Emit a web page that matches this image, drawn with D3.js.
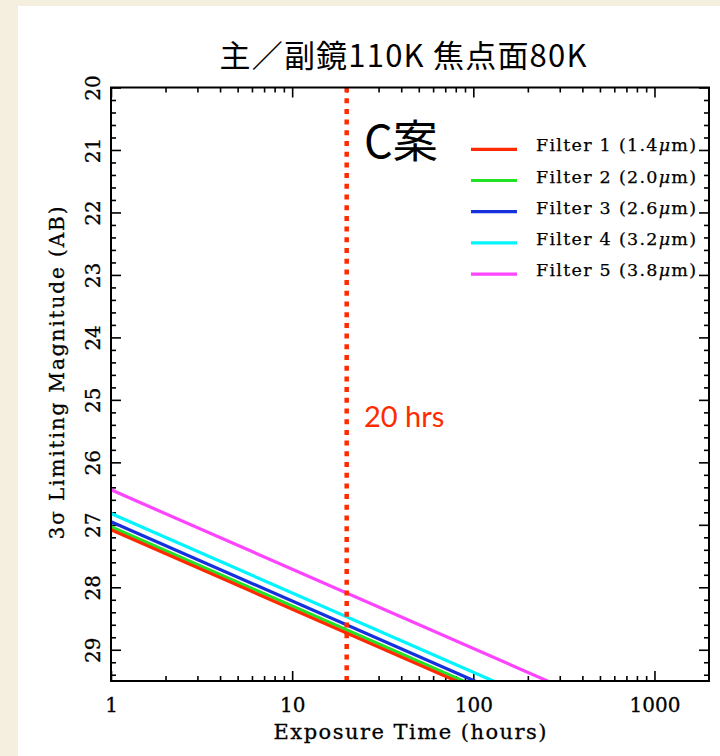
<!DOCTYPE html>
<html>
<head>
<meta charset="utf-8">
<script src="https://cdn.jsdelivr.net/npm/d3@7"></script>
<style>
  html, body { margin: 0; padding: 0; background: #f4efdf; }
  svg { display: block; }
</style>
</head>
<body>
<svg id="chart" width="720" height="756"></svg>
<script>
// Limiting magnitude vs. exposure time for the five filters
const filterNames = ["Filter 1", "Filter 2", "Filter 3", "Filter 4", "Filter 5"];
const wavelengths = ["1.4", "2.0", "2.6", "3.2", "3.8"];
const colors = ["#ff2a00", "#22e322", "#1530dd", "#00f5ff", "#ff44ff"];
const exposureHours = [1, 1000];
const magAt1h = [27.08, 27.03, 26.95, 26.82, 26.44];
const magAt1000h = [30.89, 30.84, 30.76, 30.63, 30.25];
const markerHours = 20;
const xMajorTicks = [1, 10, 100, 1000];
const yMajorTicks = [20, 21, 22, 23, 24, 25, 26, 27, 28, 29];

const svg = d3.select("#chart");

// page background and white sheet
svg.append("rect").attr("width", 720).attr("height", 756).attr("fill", "#f4efdf");
svg.append("rect").attr("x", 18).attr("y", 6).attr("width", 702).attr("height", 750).attr("fill", "#ffffff");

const x = d3.scaleLog().domain([1, 2000]).range([111, 709]);
const y = d3.scaleLinear().domain([20, 29.5]).range([87.5, 681]);
const [x0, x1] = x.range();
const [y0, y1] = y.range();

// minor tick values
const xMinor = [];
[1, 10, 100, 1000].forEach(d => { for (let k = 2; k <= 9; k++) if (d * k < 2000) xMinor.push(d * k); });
const yMinor = d3.range(20, 29.5001, 0.2).map(v => +v.toFixed(1)).filter(v => Math.abs(v - Math.round(v)) > 1e-6);

const serif = "'DejaVu Serif', 'Liberation Serif', serif";

function tickAxis(gen, values, size, transform) {
  const g = svg.append("g").attr("transform", transform)
    .call(gen.tickValues(values).tickSize(-size).tickFormat(""));
  g.select(".domain").remove();
  g.selectAll(".tick line").attr("stroke", "#000").attr("stroke-width", 1.6);
  return g;
}
// inward ticks on all four sides
tickAxis(d3.axisBottom(x), xMajorTicks, 10, `translate(0,${y1})`);
tickAxis(d3.axisBottom(x), xMinor, 5, `translate(0,${y1})`);
tickAxis(d3.axisTop(x), xMajorTicks, 10, `translate(0,${y0})`);
tickAxis(d3.axisTop(x), xMinor, 5, `translate(0,${y0})`);
tickAxis(d3.axisLeft(y), yMajorTicks, 10, `translate(${x0},0)`);
tickAxis(d3.axisLeft(y), yMinor, 5, `translate(${x0},0)`);
tickAxis(d3.axisRight(y), yMajorTicks, 10, `translate(${x1},0)`);
tickAxis(d3.axisRight(y), yMinor, 5, `translate(${x1},0)`);

// x tick labels
const xLab = svg.append("g").attr("transform", `translate(0,${y1})`)
  .call(d3.axisBottom(x).tickValues(xMajorTicks).tickSize(0).tickPadding(0).tickFormat(d3.format("d")));
xLab.select(".domain").remove();
xLab.selectAll("text").attr("font-family", serif).attr("font-size", 20).attr("fill", "#000")
  .attr("stroke", "#000").attr("stroke-width", 0.3)
  .attr("y", 31).attr("dy", 0);

// y tick labels, rotated
const yLab = svg.append("g").attr("transform", `translate(${x0},0)`)
  .call(d3.axisLeft(y).tickValues(yMajorTicks).tickSize(0).tickFormat(d3.format("d")));
yLab.select(".domain").remove();
yLab.selectAll("text").attr("font-family", serif).attr("font-size", 20).attr("fill", "#000")
  .attr("stroke", "#000").attr("stroke-width", 0.3)
  .attr("x", 0).attr("y", 0).attr("dy", 0)
  .attr("text-anchor", "middle")
  .attr("transform", "translate(-11,0) rotate(-90)");

// data lines
svg.append("clipPath").attr("id", "plot-clip")
  .append("rect").attr("x", x0).attr("y", y0).attr("width", x1 - x0).attr("height", y1 - y0);

const series = filterNames.map((name, i) => ({
  name, wl: wavelengths[i], color: colors[i],
  points: [[exposureHours[0], magAt1h[i]], [exposureHours[1], magAt1000h[i]]]
}));

// straight in log-time, so extend each fitted line to the right edge
const extend = d => {
  const [[t0, m0], [t1, m1]] = d.points;
  const slope = (m1 - m0) / Math.log10(t1 / t0);
  const tEnd = x.domain()[1];
  return d.points.concat([[tEnd, m0 + slope * Math.log10(tEnd / t0)]]);
};
const line = d3.line().x(d => x(d[0])).y(d => y(d[1]));
const lines = svg.append("g").attr("clip-path", "url(#plot-clip)");
lines.selectAll("path").data(series.slice().reverse()).join("path")
  .attr("d", d => line(extend(d)))
  .attr("fill", "none").attr("stroke", d => d.color).attr("stroke-width", 3.2);

// 20-hour marker
lines.append("line")
  .attr("x1", x(markerHours)).attr("x2", x(markerHours))
  .attr("y1", y0).attr("y2", y1)
  .attr("stroke", "#ff2a00").attr("stroke-width", 4.5)
  .attr("stroke-dasharray", "5,5.7");

// frame
svg.append("rect").attr("x", x0).attr("y", y0).attr("width", x1 - x0).attr("height", y1 - y0)
  .attr("fill", "none").attr("stroke", "#000").attr("stroke-width", 2);

// axis titles
svg.append("text").attr("x", (x0 + x1) / 2).attr("y", 739)
  .attr("text-anchor", "middle").attr("font-family", serif).attr("font-size", 21)
  .attr("stroke", "#000").attr("stroke-width", 0.3)
  .attr("textLength", 273).attr("lengthAdjust", "spacing")
  .text("Exposure Time (hours)");
svg.append("text").attr("transform", "translate(64,373) rotate(-90)")
  .attr("text-anchor", "middle").attr("font-family", serif).attr("font-size", 20)
  .attr("stroke", "#000").attr("stroke-width", 0.3)
  .attr("textLength", 333).attr("lengthAdjust", "spacing")
  .text("3σ Limiting Magnitude (AB)");

// title
svg.append("text").attr("x", 403).attr("y", 67)
  .attr("text-anchor", "middle").attr("font-family", "'Noto Sans CJK JP', sans-serif").attr("font-size", 31)
  .attr("textLength", 367).attr("lengthAdjust", "spacing")
  .text("主／副鏡110K 焦点面80K");

svg.append("text").attr("x", 364).attr("y", 158)
  .attr("font-family", "'Noto Sans CJK JP', sans-serif").attr("font-size", 45)
  .text("C案");

svg.append("text").attr("x", 364).attr("y", 427)
  .attr("font-family", "Lato, 'Open Sans', sans-serif").attr("font-size", 29).attr("fill", "#ff2a00")
  .text(`${markerHours} hrs`);

// legend
const legend = svg.append("g");
const leg = legend.selectAll("g").data(series).join("g")
  .attr("transform", (d, i) => `translate(0,${149.3 + i * 31.2})`);
leg.append("line").attr("x1", 471).attr("x2", 517).attr("stroke", d => d.color).attr("stroke-width", 3.2);
const lt = leg.append("text").attr("x", 536).attr("y", 2)
  .attr("font-family", serif).attr("font-size", 17.5)
  .attr("stroke", "#000").attr("stroke-width", 0.25)
  .attr("textLength", 160).attr("lengthAdjust", "spacing");
lt.append("tspan").text(d => `${d.name} (${d.wl}`);
lt.append("tspan").attr("font-style", "italic").text("μ");
lt.append("tspan").text("m)");
</script>
</body>
</html>
